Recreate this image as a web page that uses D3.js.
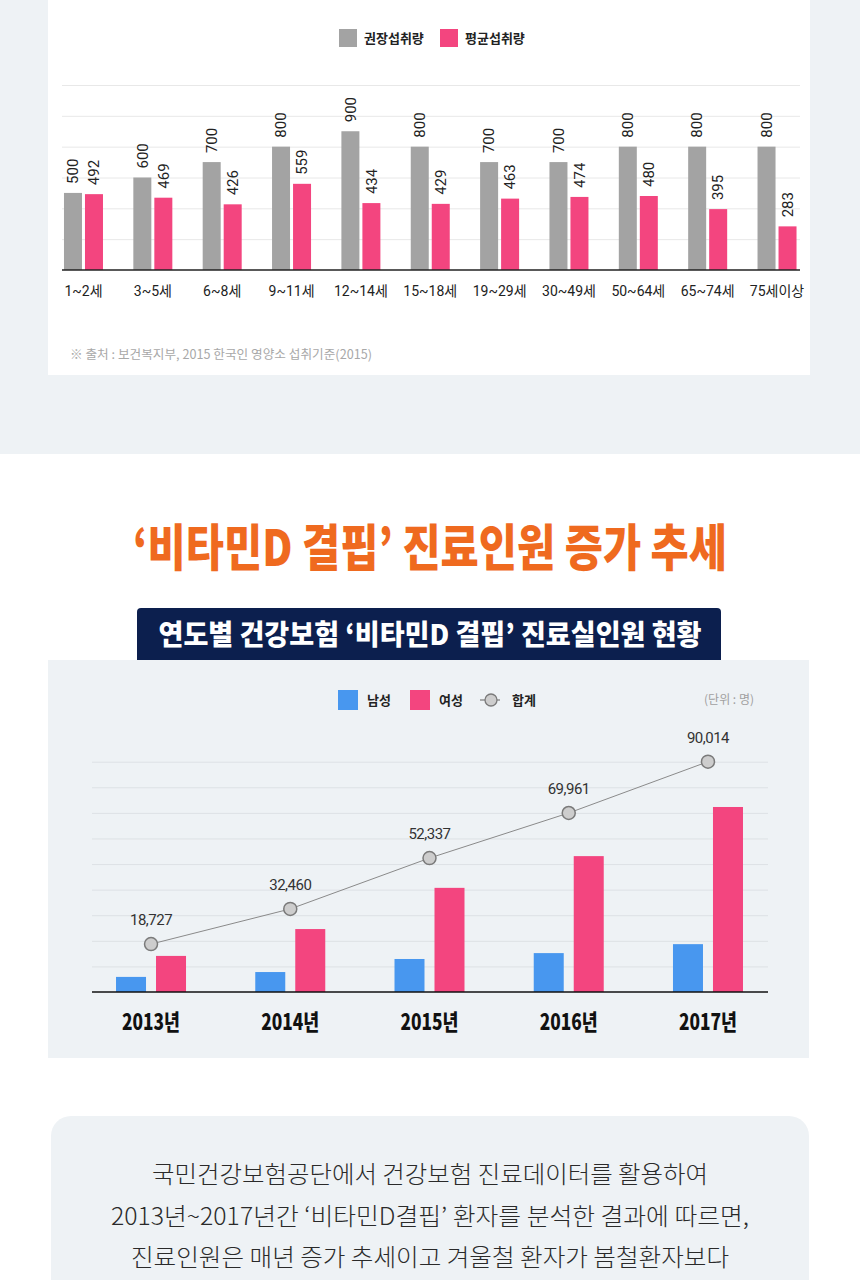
<!DOCTYPE html>
<html>
<head>
<meta charset="utf-8">
<script src="https://cdn.jsdelivr.net/npm/d3@7"></script>
<style>
  body { margin: 0; background: #fff; }
  svg { display: block; font-family: 'Noto Sans CJK KR', 'Noto Sans', sans-serif; }
  .num { font-family: Roboto, 'Noto Sans', sans-serif; }
</style>
</head>
<body>
<div id="chart"></div>
<script>
// intake chart (top)
const ageGroups = ['1~2세', '3~5세', '6~8세', '9~11세', '12~14세', '15~18세', '19~29세', '30~49세', '50~64세', '65~74세', '75세이상']
const intakeSeries = ['권장섭취량', '평균섭취량']
const recommended = [500, 600, 700, 800, 900, 800, 700, 700, 800, 800, 800]
const average = [492, 469, 426, 559, 434, 429, 463, 474, 480, 395, 283]
const intakeTicks = [200, 400, 600, 800, 1000, 1200]
const sourceNote = '※ 출처 : 보건복지부, 2015 한국인 영양소 섭취기준(2015)'

// patients chart (bottom)
const years = ['2013년', '2014년', '2015년', '2016년', '2017년']
const genderSeries = ['남성', '여성']
const male = [5900, 7800, 12900, 15200, 18700]
const female = [14100, 24600, 40700, 53100, 72300]
const total = [18727, 32460, 52337, 69961, 90014]
const patientTicks = [10000, 20000, 30000, 40000, 50000, 60000, 70000, 80000, 90000]

const title = '‘비타민D 결핍’ 진료인원 증가 추세'
const subtitle = '연도별 건강보험 ‘비타민D 결핍’ 진료실인원 현황'
const unitLabel = '(단위 : 명)'
const noteLines = [
  '국민건강보험공단에서 건강보험 진료데이터를 활용하여',
  '2013년~2017년간 ‘비타민D결핍’ 환자를 분석한 결과에 따르면,',
  '진료인원은 매년 증가 추세이고 겨울철 환자가 봄철환자보다'
]

const W = 860
const H = 1280
const pageGray = '#eef2f5'
const grayBar = '#a3a3a3'
const pink = '#f3457f'
const blue = '#4897ef'

const svg = d3.select('#chart').append('svg')
  .attr('width', W)
  .attr('height', H)

// backgrounds
svg.append('rect').attr('width', W).attr('height', 454).attr('fill', pageGray)
svg.append('rect').attr('x', 48).attr('y', 0).attr('width', 762).attr('height', 375).attr('fill', '#fff')

// ---------- top chart ----------
const box1 = { left: 62, right: 800, top: 85, bottom: 270 }

const xAge = d3.scaleBand()
  .domain(ageGroups)
  .range([48.8, 811.7])

const xSeries = d3.scaleBand()
  .domain(intakeSeries)
  .range([-19.5, 19.5])
  .paddingInner(3 / 21)

const yIntake = d3.scaleLinear()
  .domain([0, 1200])
  .range([box1.bottom, box1.top])

// grid
svg.append('g')
  .attr('transform', `translate(${box1.left},0)`)
  .call(d3.axisLeft(yIntake).tickValues(intakeTicks).tickSize(-(box1.right - box1.left)).tickFormat(''))
  .call(g => g.select('.domain').remove())
  .call(g => g.selectAll('line').attr('stroke', '#e8e8e8'))

const intakeRows = ageGroups.map((age, i) => ({ age, values: [recommended[i], average[i]] }))
const intakeColors = d3.scaleOrdinal().domain(intakeSeries).range([grayBar, pink])

const groups = svg.append('g')
  .selectAll('g')
  .data(intakeRows)
  .join('g')
  .attr('transform', d => `translate(${xAge(d.age) + xAge.bandwidth() / 2},0)`)

groups.selectAll('rect')
  .data(d => d.values.map((v, k) => ({ key: intakeSeries[k], v })))
  .join('rect')
  .attr('x', d => xSeries(d.key))
  .attr('width', xSeries.bandwidth())
  .attr('y', d => yIntake(d.v))
  .attr('height', d => box1.bottom - yIntake(d.v))
  .attr('fill', d => intakeColors(d.key))

groups.selectAll('text')
  .data(d => d.values.map((v, k) => ({ key: intakeSeries[k], v })))
  .join('text')
  .attr('class', 'num')
  .attr('transform', d => `translate(${xSeries(d.key) + xSeries.bandwidth() / 2},${yIntake(d.v) - 9}) rotate(-90)`)
  .attr('dy', '0.35em')
  .attr('font-size', 15)
  .attr('fill', '#222')
  .text(d => d.v)

// x labels
svg.append('g')
  .attr('transform', `translate(0,${box1.bottom})`)
  .call(d3.axisBottom(xAge).tickSize(0).tickPadding(16))
  .call(g => g.select('.domain').remove())
  .call(g => g.selectAll('text')
    .attr('font-family', 'Roboto, "Noto Sans CJK KR", sans-serif')
    .attr('font-size', 14)
    .attr('fill', '#222'))

svg.append('line')
  .attr('x1', box1.left).attr('x2', box1.right)
  .attr('y1', box1.bottom).attr('y2', box1.bottom)
  .attr('stroke', '#222').attr('stroke-width', 1.5)

// legend
const legend1 = svg.append('g').attr('transform', 'translate(339,29)')
intakeSeries.forEach((s, i) => {
  const g = legend1.append('g').attr('transform', `translate(${i * 101},0)`)
  g.append('rect').attr('width', 18).attr('height', 18).attr('fill', intakeColors(s))
  g.append('text').attr('x', 25).attr('y', 9).attr('dy', '0.35em')
    .attr('font-size', 13).attr('font-weight', 700).attr('fill', '#222').text(s)
})

svg.append('text')
  .attr('x', 70).attr('y', 355).attr('dy', '0.35em')
  .attr('font-size', 12.5).attr('fill', '#a8a8a8')
  .attr('textLength', 302).attr('lengthAdjust', 'spacingAndGlyphs')
  .text(sourceNote)

// ---------- titles ----------
svg.append('text')
  .attr('x', 430).attr('y', 548).attr('dy', '0.35em')
  .attr('text-anchor', 'middle')
  .attr('font-size', 50).attr('font-weight', 900)
  .attr('fill', '#ef6a1f')
  .attr('textLength', 594).attr('lengthAdjust', 'spacingAndGlyphs')
  .text(title)

svg.append('path')
  .attr('d', 'M137,660 V612 Q137,608 141,608 H717 Q721,608 721,612 V660 Z')
  .attr('fill', '#0c1f4e')

svg.append('text')
  .attr('x', 430).attr('y', 635).attr('dy', '0.35em')
  .attr('text-anchor', 'middle')
  .attr('font-size', 28).attr('font-weight', 900)
  .attr('fill', '#fff')
  .attr('textLength', 543).attr('lengthAdjust', 'spacingAndGlyphs')
  .text(subtitle)

// ---------- bottom chart ----------
svg.append('rect').attr('x', 48).attr('y', 660).attr('width', 761).attr('height', 398).attr('fill', pageGray)

const box2 = { left: 92, right: 768, top: 761.7, bottom: 992 }

const xYear = d3.scaleBand()
  .domain(years)
  .range([81.4, 777.6])

const xGender = d3.scaleBand()
  .domain(genderSeries)
  .range([-35, 35])
  .paddingInner(0.25)

const yPatients = d3.scaleLinear()
  .domain([0, 90000])
  .range([box2.bottom, box2.top])

svg.append('g')
  .attr('transform', `translate(${box2.left},0)`)
  .call(d3.axisLeft(yPatients).tickValues(patientTicks).tickSize(-(box2.right - box2.left)).tickFormat(''))
  .call(g => g.select('.domain').remove())
  .call(g => g.selectAll('line').attr('stroke', '#dde1e5'))

const genderColors = d3.scaleOrdinal().domain(genderSeries).range([blue, pink])
const patientRows = years.map((year, i) => ({ year, values: [male[i], female[i]], total: total[i] }))

svg.append('g')
  .selectAll('g')
  .data(patientRows)
  .join('g')
  .attr('transform', d => `translate(${xYear(d.year) + xYear.bandwidth() / 2},0)`)
  .selectAll('rect')
  .data(d => d.values.map((v, k) => ({ key: genderSeries[k], v })))
  .join('rect')
  .attr('x', d => xGender(d.key))
  .attr('width', xGender.bandwidth())
  .attr('y', d => yPatients(d.v))
  .attr('height', d => box2.bottom - yPatients(d.v))
  .attr('fill', d => genderColors(d.key))

svg.append('line')
  .attr('x1', box2.left).attr('x2', box2.right)
  .attr('y1', box2.bottom).attr('y2', box2.bottom)
  .attr('stroke', '#111').attr('stroke-width', 1.5)

// total line
const cx = d => xYear(d.year) + xYear.bandwidth() / 2
const line = d3.line()
  .x(cx)
  .y(d => yPatients(d.total))

svg.append('path')
  .datum(patientRows)
  .attr('d', line)
  .attr('fill', 'none')
  .attr('stroke', '#8a8a8a')
  .attr('stroke-width', 1)

svg.append('g')
  .selectAll('circle')
  .data(patientRows)
  .join('circle')
  .attr('cx', cx)
  .attr('cy', d => yPatients(d.total))
  .attr('r', 6.5)
  .attr('fill', '#cdcdcd')
  .attr('stroke', '#7a7a7a')
  .attr('stroke-width', 1.5)

svg.append('g')
  .selectAll('text')
  .data(patientRows)
  .join('text')
  .attr('class', 'num')
  .attr('x', cx)
  .attr('y', d => yPatients(d.total) - 24)
  .attr('dy', '0.35em')
  .attr('text-anchor', 'middle')
  .attr('font-size', 15)
  .attr('letter-spacing', -0.5)
  .attr('fill', '#333')
  .text(d => d3.format(',')(d.total))

// year labels
svg.append('g')
  .attr('transform', `translate(0,${box2.bottom})`)
  .call(d3.axisBottom(xYear).tickSize(0).tickPadding(22))
  .call(g => g.select('.domain').remove())
  .call(g => g.selectAll('text')
    .attr('font-family', '"Noto Sans CJK KR", sans-serif')
    .attr('font-size', 22)
    .attr('font-weight', 900)
    .attr('fill', '#111')
    .attr('textLength', 58)
    .attr('lengthAdjust', 'spacingAndGlyphs'))

// legend 2
const legend2 = svg.append('g').attr('transform', 'translate(338,690)')
genderSeries.forEach((s, i) => {
  const g = legend2.append('g').attr('transform', `translate(${i * 72},0)`)
  g.append('rect').attr('width', 20).attr('height', 20).attr('fill', genderColors(s))
  g.append('text').attr('x', 29).attr('y', 10).attr('dy', '0.35em')
    .attr('font-size', 13).attr('font-weight', 700).attr('fill', '#222').text(s)
})
const lg = legend2.append('g').attr('transform', 'translate(142,0)')
lg.append('line').attr('x1', 0).attr('x2', 20).attr('y1', 10).attr('y2', 10).attr('stroke', '#7a7a7a').attr('stroke-width', 1.2)
lg.append('circle').attr('cx', 11).attr('cy', 10).attr('r', 6).attr('fill', '#cdcdcd').attr('stroke', '#7a7a7a').attr('stroke-width', 1.3)
lg.append('text').attr('x', 32).attr('y', 10).attr('dy', '0.35em')
  .attr('font-size', 13).attr('font-weight', 700).attr('fill', '#222').text('합계')

svg.append('text')
  .attr('x', 754).attr('y', 700).attr('dy', '0.35em')
  .attr('text-anchor', 'end')
  .attr('font-size', 12).attr('fill', '#a0a0a0')
  .text(unitLabel)

// ---------- note box ----------
svg.append('rect')
  .attr('x', 51).attr('y', 1116).attr('width', 758).attr('height', 200)
  .attr('rx', 20)
  .attr('fill', pageGray)

const noteWidths = [556, 638, 598]
svg.append('g')
  .selectAll('text')
  .data(noteLines)
  .join('text')
  .attr('x', 430)
  .attr('y', (d, i) => 1175 + i * 41.5)
  .attr('dy', '0.35em')
  .attr('text-anchor', 'middle')
  .attr('font-size', 24)
  .attr('font-weight', 300)
  .attr('fill', '#2a2a2a')
  .attr('textLength', (d, i) => noteWidths[i])
  .attr('lengthAdjust', 'spacingAndGlyphs')
  .text(d => d)
</script>
</body>
</html>
